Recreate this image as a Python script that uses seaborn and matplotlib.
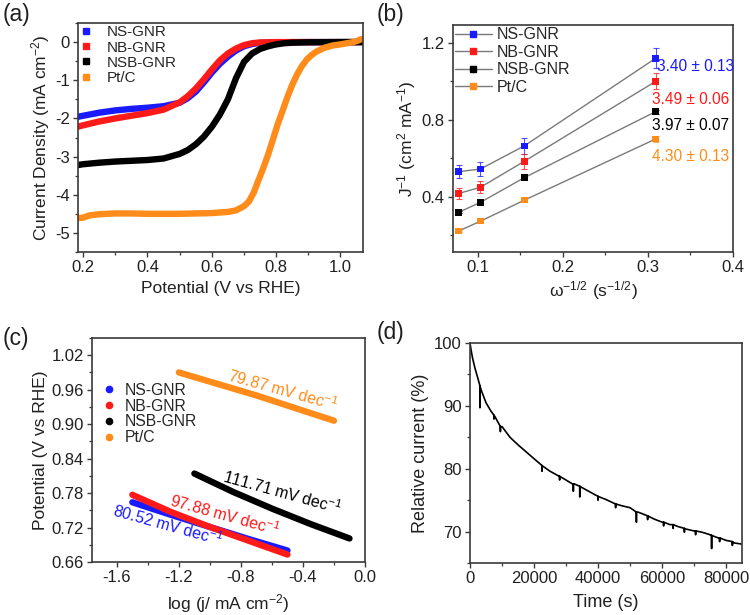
import numpy as np
import pandas as pd
import matplotlib
matplotlib.use("Agg")
import matplotlib.pyplot as plt
import seaborn as sns
from matplotlib.lines import Line2D
from matplotlib.ticker import MultipleLocator, FormatStrFormatter

# ---------------- data ----------------
samples = ["NS-GNR", "NB-GNR", "NSB-GNR", "Pt/C"]
colors = ["#1a1aff", "#ff1a1a", "#000000", "#ff8c1a"]

# (a) LSV curves
E_ns = [0.17, 0.2, 0.25, 0.3, 0.35, 0.4, 0.45, 0.5, 0.525, 0.55, 0.575, 0.6, 0.625, 0.65,
        0.675, 0.7, 0.725, 0.75, 0.8, 0.9, 1.0, 1.07]
J_ns = [-1.98, -1.93, -1.85, -1.79, -1.75, -1.72, -1.68, -1.59, -1.47, -1.30, -1.06, -0.80,
        -0.57, -0.38, -0.22, -0.11, -0.05, -0.02, -0.005, 0.0, 0.0, 0.0]
E_nb = [0.17, 0.2, 0.25, 0.3, 0.35, 0.4, 0.45, 0.5, 0.525, 0.55, 0.575, 0.6, 0.625, 0.65,
        0.675, 0.7, 0.725, 0.75, 0.8, 0.9, 1.0, 1.07]
J_nb = [-2.25, -2.18, -2.08, -2.00, -1.93, -1.86, -1.77, -1.58, -1.42, -1.22, -0.98, -0.72,
        -0.48, -0.30, -0.17, -0.08, -0.03, -0.01, 0.0, 0.0, 0.0, 0.0]
E_nsb = [0.17, 0.2, 0.25, 0.3, 0.35, 0.4, 0.45, 0.5, 0.525, 0.55, 0.575, 0.6, 0.625, 0.65,
         0.675, 0.7, 0.725, 0.75, 0.775, 0.8, 0.825, 0.85, 0.9, 1.0, 1.07]
J_nsb = [-3.24, -3.20, -3.16, -3.13, -3.11, -3.09, -3.05, -2.93, -2.83, -2.68, -2.48, -2.22,
         -1.90, -1.50, -0.95, -0.52, -0.30, -0.18, -0.11, -0.06, -0.03, -0.015, -0.005, 0.0, 0.0]
E_pt = [0.17, 0.2, 0.22, 0.25, 0.3, 0.35, 0.4, 0.45, 0.5, 0.55, 0.6, 0.65, 0.675, 0.7, 0.715,
        0.73, 0.745, 0.76, 0.775, 0.79, 0.805, 0.82, 0.835, 0.85, 0.865, 0.88, 0.895, 0.91,
        0.925, 0.95, 0.975, 1.0, 1.02, 1.04, 1.055, 1.065]
J_pt = [-4.62, -4.60, -4.54, -4.51, -4.49, -4.49, -4.50, -4.50, -4.50, -4.49, -4.48, -4.45,
        -4.41, -4.30, -4.18, -3.95, -3.62, -3.30, -2.95, -2.55, -2.15, -1.80, -1.44, -1.12,
        -0.85, -0.63, -0.46, -0.34, -0.25, -0.15, -0.09, -0.06, -0.03, 0.0, 0.04, 0.08]

# (b) Koutecky-Levich
omega = [0.0773, 0.103, 0.1545, 0.309]
kl_ns = [0.531, 0.545, 0.665, 1.12]
kl_nb = [0.418, 0.450, 0.585, 1.00]
kl_nsb = [0.320, 0.372, 0.500, 0.843]
kl_pt = [0.223, 0.274, 0.383, 0.701]
err_ns = [0.035, 0.035, 0.04, 0.052]
err_nb = [0.031, 0.032, 0.038, 0.042]
err_nsb = [0.006, 0.006, 0.007, 0.010]
err_pt = [0.006, 0.006, 0.006, 0.014]
n_labels = ["3.40 ± 0.13", "3.49 ± 0.06", "3.97 ± 0.07", "4.30 ± 0.13"]

# (c) Tafel
logj_ns = [-1.5, -1.25, -1.0, -0.75, -0.5]
eta_ns = [0.764, 0.742, 0.721, 0.700, 0.680]
logj_nb = [-1.5, -1.25, -1.0, -0.75, -0.5]
eta_nb = [0.777, 0.747, 0.721, 0.697, 0.673]
logj_nsb = [-1.1, -0.85, -0.6, -0.35, -0.1]
eta_nsb = [0.814, 0.782, 0.753, 0.726, 0.701]
logj_pt = [-1.2, -0.95, -0.7, -0.45, -0.2]
eta_pt = [0.990, 0.970, 0.950, 0.928, 0.906]
tafel_labels = ["80.52 mV dec$^{-1}$", "97.88 mV dec$^{-1}$",
                "111.71 mV dec$^{-1}$", "79.87 mV dec$^{-1}$"]

# (d) chronoamperometry
time_s = [0, 300, 800, 1500, 2500, 3500, 5000, 6500, 8000, 10000, 12500, 15000, 17500,
          20000, 22500, 25000, 27500, 30000, 32500, 35000, 37500, 40000, 42500, 45000,
          47500, 50000, 52500, 55000, 57500, 60000, 62500, 65000, 67500, 70000, 72500,
          75000, 77500, 80000, 82500, 85000]
rel_cur = [100, 99.0, 97.6, 96.1, 94.3, 92.5, 90.5, 89.2, 88.1, 86.7, 85.0, 83.8, 82.7,
           81.6, 80.5, 79.6, 78.9, 78.2, 77.6, 77.0, 76.3, 75.6, 75.1, 74.5, 74.1, 73.8,
           73.1, 72.6, 72.0, 71.5, 71.1, 70.8, 70.4, 70.1, 69.9, 69.5, 69.0, 68.6, 68.2, 68.0]
spike_t = [3100, 7500, 9500, 22500, 28000, 32300, 34300, 40000, 45500, 52000, 55500,
           60500, 63500, 67000, 70500, 75500, 78000, 82000]
spike_top = [93.2, 88.5, 86.7, 80.5, 78.8, 77.5, 77.2, 75.6, 74.4, 73.1, 72.5,
             71.5, 71.1, 70.5, 70.1, 69.4, 69.0, 68.4]
spike_low = [89.7, 87.9, 85.9, 79.6, 78.2, 76.4, 75.5, 75.0, 73.8, 71.5, 71.9,
             70.9, 70.5, 69.9, 69.5, 67.3, 68.4, 67.8]

# ---------------- style ----------------
sns.set_theme(style="ticks")
plt.rcParams["font.family"] = ["Liberation Sans", "DejaVu Sans"]
plt.rcParams["mathtext.fontset"] = "custom"
plt.rcParams["mathtext.rm"] = "Liberation Sans"
plt.rcParams["mathtext.it"] = "Liberation Sans:italic"
plt.rcParams["mathtext.bf"] = "Liberation Sans:bold"
plt.rcParams["axes.unicode_minus"] = False

SPINE = "#3a3a3a"
TXT = "#202020"
TICK_FS = 12
LAB_FS = 12.5

fig = plt.figure(figsize=(7.5, 6.15), dpi=100)
axA = fig.add_axes([78/750, 1-252/615, 285/750, 229/615])
axB = fig.add_axes([453/750, 1-252/615, 280/750, 227/615])
axC = fig.add_axes([92/750, 1-562/615, 273/750, 224/615])
axD = fig.add_axes([470/750, 1-563/615, 272/750, 220/615])


def style_ax(ax):
    for s in ax.spines.values():
        s.set_visible(True)
        s.set_color(SPINE)
        s.set_linewidth(1.2)
    ax.tick_params(which="major", direction="out", length=3.5, width=1, color=SPINE,
                   labelsize=TICK_FS, labelcolor=TXT, pad=2.5)
    ax.tick_params(which="minor", direction="out", length=2.2, width=0.9, color=SPINE)
    ax.set_facecolor("white")


# ---------------- (a) ----------------
dfa = pd.concat([
    pd.DataFrame({"E": E_ns, "J": J_ns, "s": samples[0]}),
    pd.DataFrame({"E": E_nb, "J": J_nb, "s": samples[1]}),
    pd.DataFrame({"E": E_nsb, "J": J_nsb, "s": samples[2]}),
    pd.DataFrame({"E": E_pt, "J": J_pt, "s": samples[3]}),
])
sns.lineplot(data=dfa, x="E", y="J", hue="s", palette=colors, hue_order=samples,
             lw=4.6, sort=False, estimator=None, legend=False, ax=axA,
             solid_capstyle="round")
axA.set_xlim(0.184, 1.07)
axA.set_ylim(-5.5, 0.5)
axA.xaxis.set_major_locator(MultipleLocator(0.2))
axA.xaxis.set_minor_locator(MultipleLocator(0.1))
axA.yaxis.set_major_locator(MultipleLocator(1))
axA.yaxis.set_minor_locator(MultipleLocator(0.5))
axA.xaxis.set_major_formatter(FormatStrFormatter("%.1f"))
axA.yaxis.set_major_formatter(FormatStrFormatter("%d"))
style_ax(axA)
axA.set_xlabel("Potential (V vs RHE)", fontsize=LAB_FS, color=TXT)
axA.set_ylabel("Current Density (mA cm$^{-2}$)", fontsize=LAB_FS, color=TXT)
axA.xaxis.set_label_coords(0.5, -0.125)
axA.yaxis.set_label_coords(-0.092, 0.5)
hA = [Line2D([], [], marker="s", ls="none", color=c, markersize=4.5) for c in colors]
axA.legend(hA, samples, loc="upper left", bbox_to_anchor=(0.0, 0.99), frameon=False,
           fontsize=11, handlelength=1.0, handletextpad=0.9, labelspacing=0.08,
           borderpad=0, borderaxespad=0)

# ---------------- (b) ----------------
kl_vals = [kl_ns, kl_nb, kl_nsb, kl_pt]
kl_errs = [err_ns, err_nb, err_nsb, err_pt]
for vals, errs, c in zip(kl_vals, kl_errs, colors):
    sns.lineplot(x=omega, y=vals, color="#7a7a7a", lw=1.0, ax=axB, estimator=None)
    axB.errorbar(omega, vals, yerr=errs, fmt="none", ecolor=c, elinewidth=0.8,
                 capsize=2.5, capthick=0.8, alpha=0.75)
    sns.scatterplot(x=omega, y=vals, color=c, marker="s", s=22, edgecolor="none",
                    ax=axB, zorder=5)
n_y = [1.077, 0.9075, 0.769, 0.609]
n_x = [0.311, 0.305, 0.305, 0.305]
for lab, xx, yy, c in zip(n_labels, n_x, n_y, colors):
    axB.text(xx, yy, lab, color=c, fontsize=11.2, ha="left", va="center")
axB.set_xlim(0.0707, 0.4)
axB.set_ylim(0.114, 1.293)
axB.xaxis.set_major_locator(MultipleLocator(0.1))
axB.xaxis.set_minor_locator(MultipleLocator(0.05))
axB.yaxis.set_major_locator(MultipleLocator(0.4))
axB.yaxis.set_minor_locator(MultipleLocator(0.2))
axB.xaxis.set_major_formatter(FormatStrFormatter("%.1f"))
axB.yaxis.set_major_formatter(FormatStrFormatter("%.1f"))
style_ax(axB)
axB.set_xlabel("ω$^{-1/2}$ (s$^{-1/2}$)", fontsize=LAB_FS, color=TXT)
axB.set_ylabel("J$^{-1}$ (cm$^{2}$ mA$^{-1}$)", fontsize=LAB_FS, color=TXT)
axB.xaxis.set_label_coords(0.5, -0.12)
axB.yaxis.set_label_coords(-0.125, 0.5)
hB = [Line2D([], [], marker="s", ls="-", color="#7a7a7a", lw=1.0, markerfacecolor=c,
             markeredgecolor=c, markersize=4) for c in colors]
axB.legend(hB, samples, loc="upper left", bbox_to_anchor=(0.007, 0.99), frameon=False,
           fontsize=11.5, handlelength=2.3, handletextpad=0.33, labelspacing=0.16,
           borderpad=0, borderaxespad=0)

# ---------------- (c) ----------------
dfc = pd.concat([
    pd.DataFrame({"x": logj_ns, "y": eta_ns, "s": samples[0]}),
    pd.DataFrame({"x": logj_nb, "y": eta_nb, "s": samples[1]}),
    pd.DataFrame({"x": logj_nsb, "y": eta_nsb, "s": samples[2]}),
    pd.DataFrame({"x": logj_pt, "y": eta_pt, "s": samples[3]}),
])
sns.lineplot(data=dfc, x="x", y="y", hue="s", palette=colors, hue_order=samples,
             lw=4.6, sort=False, estimator=None, legend=False, ax=axC,
             solid_capstyle="round")
tafel_pos = [(-1.273, 0.724), (-0.905, 0.742), (-0.537, 0.782), (-0.531, 0.960)]
for lab, (xx, yy), c in zip(tafel_labels, tafel_pos, colors):
    axC.text(xx, yy, lab, color=c, fontsize=11.5, ha="center", va="center",
             rotation=-15.5, rotation_mode="anchor")
axC.set_xlim(-1.76, 0.0)
axC.set_ylim(0.66, 1.05)
axC.xaxis.set_major_locator(MultipleLocator(0.4))
axC.xaxis.set_minor_locator(MultipleLocator(0.2))
axC.yaxis.set_major_locator(MultipleLocator(0.06))
axC.yaxis.set_minor_locator(MultipleLocator(0.03))
axC.xaxis.set_major_formatter(FormatStrFormatter("%.1f"))
axC.yaxis.set_major_formatter(FormatStrFormatter("%.2f"))
style_ax(axC)
axC.set_xlabel("log (j/ mA cm$^{-2}$)", fontsize=LAB_FS, color=TXT)
axC.set_ylabel("Potential (V vs RHE)", fontsize=LAB_FS, color=TXT)
axC.xaxis.set_label_coords(0.5, -0.133)
axC.yaxis.set_label_coords(-0.16, 0.5)
hC = [Line2D([], [], marker="o", ls="none", color=c, markersize=4.5) for c in colors]
axC.legend(hC, samples, loc="upper left", bbox_to_anchor=(0.035, 0.80), frameon=False,
           fontsize=11.3, handlelength=1.0, handletextpad=0.5, labelspacing=0.05,
           borderpad=0, borderaxespad=0)

# ---------------- (d) ----------------
pts = list(zip(time_s, rel_cur))
for t, top, low in zip(spike_t, spike_top, spike_low):
    pts += [(t, top), (t + 1, low), (t + 2, top)]
pts.sort(key=lambda p: p[0])
dfd = pd.DataFrame(pts, columns=["t", "v"])
sns.lineplot(data=dfd, x="t", y="v", color="black", lw=1.2, sort=False, estimator=None,
             ax=axD)
axD.set_xlim(0, 85000)
axD.set_ylim(65, 100)
axD.xaxis.set_major_locator(MultipleLocator(20000))
axD.xaxis.set_minor_locator(MultipleLocator(10000))
axD.yaxis.set_major_locator(MultipleLocator(10))
axD.yaxis.set_minor_locator(MultipleLocator(5))
axD.xaxis.set_major_formatter(FormatStrFormatter("%d"))
axD.yaxis.set_major_formatter(FormatStrFormatter("%d"))
style_ax(axD)
axD.set_xlabel("Time (s)", fontsize=13, color=TXT)
axD.set_ylabel("Relative current (%)", fontsize=13, color=TXT)
axD.xaxis.set_label_coords(0.5, -0.141)
axD.yaxis.set_label_coords(-0.15, 0.5)

# panel labels
for lab, x, y in [("(a)", 3, 15), ("(b)", 377, 15), ("(c)", 3, 338), ("(d)", 377, 332)]:
    fig.text(x/750, 1 - y/615, lab, fontsize=16.5, color=TXT, ha="left", va="center")

fig.savefig("out.png", dpi=100, facecolor="white")
